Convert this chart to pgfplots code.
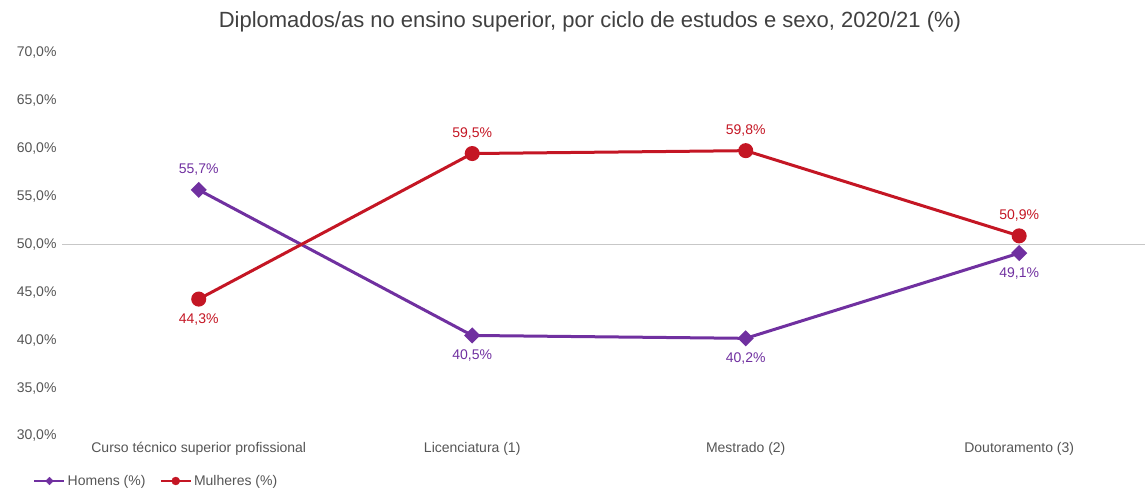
\documentclass[border=0pt]{standalone}
\usepackage{pgfplots}
\pgfplotsset{compat=1.18}
\usepackage{fontspec}
\setmainfont{Liberation Sans}
\definecolor{hom}{RGB}{112,48,160}
\definecolor{mul}{RGB}{196,22,36}
\definecolor{tx}{RGB}{85,85,85}
\definecolor{ttl}{RGB}{64,64,64}
\pgfplotstableread{
x y
0 55.7
1 40.5
2 40.2
3 49.1
}\homens
\pgfplotstableread{
x y
0 44.3
1 59.5
2 59.8
3 50.9
}\mulheres
\begin{document}
\begin{tikzpicture}
\path[use as bounding box] (0,0) rectangle (1145bp,490bp);
\begin{axis}[
  at={(62bp,54bp)}, anchor=south west,
  scale only axis, width=1083bp, height=383bp,
  xmin=-0.5, xmax=3.46, ymin=30, ymax=70,
  xtick={0,1,2,3},
  xticklabels={Curso técnico superior profissional,Licenciatura (1),Mestrado (2),Doutoramento (3)},
  ytick={30,35,...,70},
  /pgf/number format/assume math mode=true,
  yticklabel={\pgfmathprintnumber[fixed,fixed zerofill,precision=1,use comma]{\tick}\%},
  axis line style={draw=none},
  tick style={draw=none},
  major tick length=0pt,
  yticklabel style={font=\fontsize{14bp}{16bp}\selectfont, text=tx, anchor=east, xshift=-2bp},
  xticklabel style={font=\fontsize{14bp}{16bp}\selectfont, text=tx, anchor=north, yshift=-3bp},
  extra y ticks={50}, extra y tick labels={},
  extra y tick style={grid=major, major grid style={draw=black!22, line width=0.8bp}},
  title={Diplomados/as no ensino superior, por ciclo de estudos e sexo, 2020/21 (\%)},
  title style={font=\fontsize{22bp}{25bp}\selectfont, text=ttl, at={(0.4875,1.066)}, anchor=center, yshift=0pt},
  legend style={at={(-0.0295,-0.1175)}, anchor=west, draw=none, fill=none,
    font=\fontsize{14bp}{16bp}\selectfont, text=tx, legend columns=2,
    /tikz/every even column/.append style={column sep=12bp}},
  legend image code/.code={
    \draw[#1, line width=2.5bp] (0bp,0bp) -- (30bp,0bp);
    \draw[#1, mark repeat=1] plot coordinates {(15bp,0bp)};
  },
]
\addlegendimage{color=hom, mark=square*, mark size=2.8bp, mark options={fill=hom, rotate=45}}
\addlegendentry{Homens (\%)}
\addlegendimage{color=mul, mark=*, mark size=4bp, mark options={fill=mul}}
\addlegendentry{Mulheres (\%)}
\addplot[forget plot, color=hom, line width=3bp, mark=square*, mark size=4.2bp, mark options={fill=hom, rotate=45},
  point meta=explicit,
  visualization depends on={y \as \yv},
  nodes near coords={\pgfmathprintnumber[fixed,fixed zerofill,precision=1,use comma]{\pgfplotspointmeta}\%},
  every node near coord/.append style={font=\fontsize{14bp}{16bp}\selectfont, text=hom, anchor=center, yshift={ifthenelse(\yv>50,20,-20)*1bp}}]
  table[x=x, y=y, meta=y] {\homens};
\addplot[forget plot, color=mul, line width=3bp, mark=*, mark size=6bp, mark options={fill=mul},
  point meta=explicit,
  visualization depends on={y \as \yv},
  nodes near coords={\pgfmathprintnumber[fixed,fixed zerofill,precision=1,use comma]{\pgfplotspointmeta}\%},
  every node near coord/.append style={font=\fontsize{14bp}{16bp}\selectfont, text=mul, anchor=center, yshift={ifthenelse(\yv>50,20,-20)*1bp}}]
  table[x=x, y=y, meta=y] {\mulheres};
\end{axis}
\end{tikzpicture}
\end{document}
